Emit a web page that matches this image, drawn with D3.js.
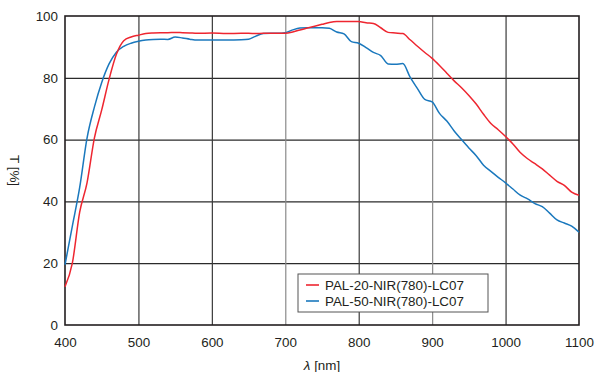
<!DOCTYPE html>
<html>
<head>
<meta charset="utf-8">
<script src="https://cdn.jsdelivr.net/npm/d3@7"></script>
<style>
  body { margin: 0; background: #fff; }
  svg text { font-family: "Liberation Sans", Arial, sans-serif; fill: #231f20; }
</style>
</head>
<body>
<div id="chart"></div>
<script>
// wavelength [nm]
const wavelengths = [400, 410, 420, 430, 440, 450, 460, 470, 480, 490, 500, 510, 520, 530, 540, 550, 560, 570, 580, 600,
  620, 640, 650, 660, 670, 680, 690, 700, 710, 720, 730, 740, 750, 760, 770, 780, 790, 800, 810, 820,
  830, 840, 850, 860, 870, 880, 890, 900, 910, 920, 930, 940, 950, 960, 970, 980, 990, 1000, 1010, 1020,
  1030, 1040, 1050, 1060, 1070, 1080, 1090, 1100];

// transmission [%]
const pal20 = [12.4, 20, 36.5, 46, 60.5, 69.6, 79.5, 87.6, 92, 93.2, 93.8, 94.3, 94.5, 94.6, 94.6, 94.7, 94.6, 94.5, 94.4, 94.5,
  94.3, 94.4, 94.4, 94.3, 94.4, 94.4, 94.4, 94.4, 94.8, 95.5, 96.1, 96.7, 97.3, 97.9, 98.2, 98.2, 98.2, 98.2, 97.8, 97.6,
  96.2, 94.7, 94.5, 94.3, 92.3, 90.2, 88.2, 86.3, 84, 81.5, 79, 76.8, 74.3, 71.5, 68.2, 65.2, 63.2, 61, 58.6, 55.8,
  53.8, 52.2, 50.5, 48.5, 46.5, 45.2, 43, 42];

const pal50 = [19.5, 32, 44.5, 60.5, 70.5, 78.5, 84.5, 88.3, 90.2, 91.2, 91.8, 92.2, 92.4, 92.5, 92.4, 93.2, 92.9, 92.5, 92.2, 92.2,
  92.2, 92.3, 92.5, 93.5, 94.3, 94.4, 94.4, 94.6, 95.5, 96.1, 96.2, 96.2, 96.2, 96.0, 94.8, 94.2, 91.7, 91.2, 89.8, 88.2,
  87.2, 84.5, 84.4, 84.6, 80.2, 76.5, 73, 72.2, 68.5, 66, 62.8, 60, 57.3, 54.8, 51.7, 49.7, 47.8, 46, 44, 42,
  40.8, 39.3, 38.3, 36.2, 34, 33, 32, 30];

const seriesNames = ["PAL-20-NIR(780)-LC07", "PAL-50-NIR(780)-LC07"];
const seriesColors = ["#ee2630", "#1a78bd"];

const xTicks = [400, 500, 600, 700, 800, 900, 1000, 1100];
const yTicks = [0, 20, 40, 60, 80, 100];

const margin = { top: 16, right: 16, bottom: 47, left: 65 };
const width = 595 - margin.left - margin.right;
const height = 372 - margin.top - margin.bottom;

const svg = d3.select("#chart")
  .append("svg")
  .attr("width", 595)
  .attr("height", 372)
  .append("g")
  .attr("transform", `translate(${margin.left},${margin.top})`);

const x = d3.scaleLinear().domain([400, 1100]).range([0, width]);
const y = d3.scaleLinear().domain([0, 100]).range([height, 0]);

// grid lines
svg.append("g")
  .attr("class", "grid-y")
  .call(d3.axisLeft(y).tickValues(yTicks.slice(1, -1)).tickSize(-width).tickFormat(""))
  .call(g => g.select(".domain").remove())
  .call(g => g.selectAll("line").attr("stroke", "#2b2b2b").attr("stroke-width", 1.2));

svg.append("g")
  .attr("class", "grid-x")
  .attr("transform", `translate(0,${height})`)
  .call(d3.axisBottom(x).tickValues(xTicks.slice(1, -1)).tickSize(-height).tickFormat(""))
  .call(g => g.select(".domain").remove())
  .call(g => g.selectAll("line")
    .attr("stroke", d => (d === 700 || d === 900) ? "#8a8a8a" : "#3a3a3a")
    .attr("stroke-width", 1.2));

// frame
svg.append("rect")
  .attr("width", width)
  .attr("height", height)
  .attr("fill", "none")
  .attr("stroke", "#231f20")
  .attr("stroke-width", 1.6);

// axes labels
svg.append("g")
  .call(d3.axisLeft(y).tickValues(yTicks).tickSize(0).tickPadding(7).tickFormat(d3.format("d")))
  .call(g => g.select(".domain").remove())
  .selectAll("text")
  .style("font-size", "13.4px");

svg.append("g")
  .attr("transform", `translate(0,${height})`)
  .call(d3.axisBottom(x).tickValues(xTicks).tickSize(0).tickPadding(12).tickFormat(d3.format("d")))
  .call(g => g.select(".domain").remove())
  .selectAll("text")
  .style("font-size", "13.4px");

const xTitle = svg.append("text")
  .attr("x", width / 2)
  .attr("y", height + 45)
  .attr("text-anchor", "middle")
  .style("font-size", "13.4px");
xTitle.append("tspan").style("font-style", "italic").text("λ");
xTitle.append("tspan").text(" [nm]");

svg.append("text")
  .attr("transform", `translate(${-50},${height / 2}) rotate(90)`)
  .attr("text-anchor", "middle")
  .attr("dy", "0.35em")
  .style("font-size", "13.4px")
  .text("T [%]");

// curves
const series = [pal20, pal50].map((vals, i) => ({
  name: seriesNames[i],
  color: seriesColors[i],
  values: wavelengths.map((w, j) => ({ w, t: vals[j] }))
}));

const line = d3.line()
  .x(d => x(d.w))
  .y(d => y(d.t))
  .curve(d3.curveMonotoneX);

// blue drawn first, red on top
svg.selectAll(".curve")
  .data(series.slice().reverse())
  .enter()
  .append("path")
  .attr("class", "curve")
  .attr("d", d => line(d.values))
  .attr("fill", "none")
  .attr("stroke", d => d.color)
  .attr("stroke-width", 1.5);

// legend
const legend = svg.append("g")
  .attr("transform", `translate(${298 - margin.left},${274 - margin.top})`);

legend.append("rect")
  .attr("width", 190)
  .attr("height", 38)
  .attr("fill", "#fff")
  .attr("stroke", "#555")
  .attr("stroke-width", 1);

series.forEach((s, i) => {
  const row = legend.append("g").attr("transform", `translate(0,${11 + i * 16})`);
  row.append("line")
    .attr("x1", 8).attr("x2", 21)
    .attr("stroke", s.color)
    .attr("stroke-width", 1.6);
  row.append("text")
    .attr("x", 27)
    .attr("dy", "0.35em")
    .style("font-size", "13.4px")
    .text(s.name);
});
</script>
</body>
</html>
